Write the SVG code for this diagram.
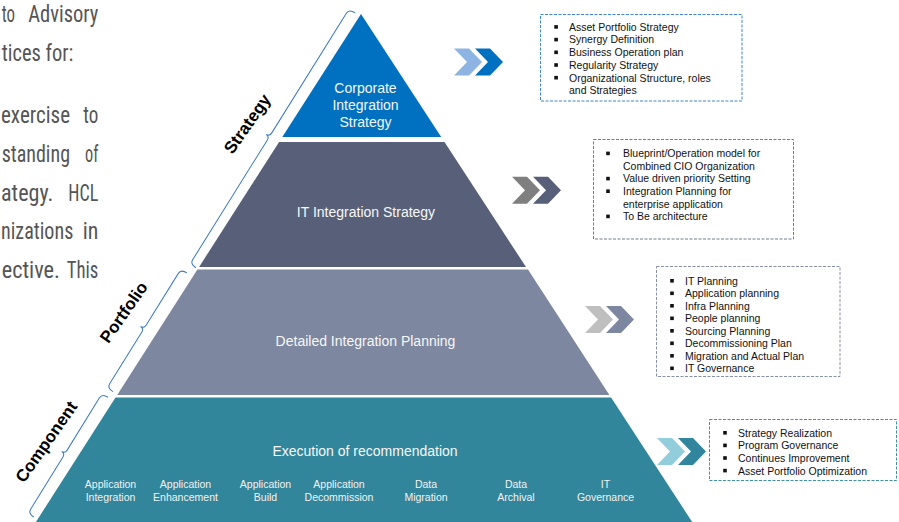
<svg xmlns="http://www.w3.org/2000/svg" xmlns:xlink="http://www.w3.org/1999/xlink" width="899" height="522" viewBox="0 0 899 522">
  <style>
    .para { font-family: "Liberation Sans Narrow", "Roboto Condensed", "DejaVu Sans Condensed", "Liberation Sans", sans-serif; font-size: 23px; fill: #555555; }
    .tier { font-family: "Liberation Sans", Arial, sans-serif; font-size: 14px; fill: #F7F7F7; text-anchor: middle; }
    .sub { font-family: "Liberation Sans", Arial, sans-serif; font-size: 10.5px; fill: #F2F2F2; text-anchor: middle; }
    .item { font-family: "Liberation Sans", Arial, sans-serif; font-size: 10.5px; fill: #111111; }
    .side { font-family: "Liberation Sans", Arial, sans-serif; font-size: 17px; font-weight: bold; fill: #000000; text-anchor: middle; dominant-baseline: central; }
    .brace { fill: none; stroke: #3A78C4; stroke-width: 1; }
    .box { fill: #FFFFFF; stroke-width: 1; stroke-dasharray: 3 1.5; }
    .bullet { fill: #111111; }
  </style>
  <defs>
    <path id="chev" d="M0,0 H15 L28,13.5 L15,27 H0 L13,13.5 Z"/>
    <rect id="blt" width="3.6" height="3.6"/>
  </defs>

  <rect width="899" height="522" fill="#FFFFFF"/>

  <!-- justified paragraph, clipped at the left page edge -->
  <g id="paragraph" class="para">
    <text x="1.7" y="22" textLength="13.3" lengthAdjust="spacingAndGlyphs">to</text>
    <text x="28.3" y="22" textLength="70" lengthAdjust="spacingAndGlyphs">Advisory</text>
    <text x="1.7" y="60.5" textLength="71.6" lengthAdjust="spacingAndGlyphs">tices for:</text>
    <text x="1" y="123.3" textLength="69" lengthAdjust="spacingAndGlyphs">exercise</text>
    <text x="83.3" y="123.3" textLength="15" lengthAdjust="spacingAndGlyphs">to</text>
    <text x="1.7" y="161.9" textLength="68.3" lengthAdjust="spacingAndGlyphs">standing</text>
    <text x="85" y="161.9" textLength="13.3" lengthAdjust="spacingAndGlyphs">of</text>
    <text x="1" y="200.5" textLength="52.3" lengthAdjust="spacingAndGlyphs">ategy.</text>
    <text x="68.3" y="200.5" textLength="30" lengthAdjust="spacingAndGlyphs">HCL</text>
    <text x="1" y="239.1" textLength="72.3" lengthAdjust="spacingAndGlyphs">nizations</text>
    <text x="82.7" y="239.1" textLength="15.6" lengthAdjust="spacingAndGlyphs">in</text>
    <text x="1.7" y="277.7" textLength="58.3" lengthAdjust="spacingAndGlyphs">ective.</text>
    <text x="66.7" y="277.7" textLength="31.6" lengthAdjust="spacingAndGlyphs">This</text>
  </g>

  <!-- pyramid tiers -->
  <g id="tier-corporate">
    <polygon points="361,14 282.3,137 441.2,137" fill="#0070C0"/>
    <text class="tier" x="365.5" y="93.3">Corporate</text>
    <text class="tier" x="365.5" y="110">Integration</text>
    <text class="tier" x="365.5" y="126.7">Strategy</text>
  </g>
  <g id="tier-it">
    <polygon points="279.1,142 444.5,142 526,267 199.1,267" fill="#576078"/>
    <text class="tier" x="366" y="217.3">IT Integration Strategy</text>
  </g>
  <g id="tier-planning">
    <polygon points="197.4,269.6 528,269.6 609.4,395 117.2,395" fill="#7D88A0"/>
    <text class="tier" x="365.5" y="345.7">Detailed Integration Planning</text>
  </g>
  <g id="tier-execution">
    <polygon points="115.5,397.5 611.1,397.5 692.2,522 35.9,522" fill="#31869C"/>
    <text class="tier" x="365" y="455.7">Execution of recommendation</text>
    <g class="sub">
      <text x="110.5" y="487.5">Application</text>
      <text x="110.5" y="501">Integration</text>
      <text x="185.5" y="487.5">Application</text>
      <text x="185.5" y="501">Enhancement</text>
      <text x="265.5" y="487.5">Application</text>
      <text x="265.5" y="501">Build</text>
      <text x="339" y="487.5">Application</text>
      <text x="339" y="501">Decommission</text>
      <text x="426" y="487.5">Data</text>
      <text x="426" y="501">Migration</text>
      <text x="516" y="487.5">Data</text>
      <text x="516" y="501">Archival</text>
      <text x="605.5" y="487.5">IT</text>
      <text x="605.5" y="501">Governance</text>
    </g>
  </g>

  <!-- side braces with their labels -->
  <g id="strategy-brace">
    <path class="brace" transform="translate(190,264) rotate(-58.05)" d="M0,7 Q0,0 5,0 L146.25,0 Q150.25,0 150.25,-4 Q150.25,0 154.25,0 L295.5,0 Q300.5,0 300.5,7"/>
    <text class="side" transform="translate(247.5,124) rotate(-55)">Strategy</text>
  </g>
  <g id="portfolio-brace">
    <path class="brace" transform="translate(107,388) rotate(-58.1)" d="M0,7 Q0,0 5,0 L66,0 Q70,0 70,-4 Q70,0 74,0 L135,0 Q140,0 140,7"/>
    <text class="side" transform="translate(124,312.5) rotate(-55)">Portfolio</text>
  </g>
  <g id="component-brace">
    <path class="brace" transform="translate(28,513.5) rotate(-58.3)" d="M0,7 Q0,0 5,0 L66.5,0 Q70.5,0 70.5,-4 Q70.5,0 74.5,0 L136,0 Q141,0 141,7"/>
    <text class="side" transform="translate(46.5,442) rotate(-55)">Component</text>
  </g>

  <!-- chevron pointers from each tier to its detail box -->
  <g id="connectors">
    <use xlink:href="#chev" href="#chev" x="454" y="48.5" fill="#8DB4E2"/>
    <use xlink:href="#chev" href="#chev" x="475" y="48.5" fill="#0070C0"/>
    <use xlink:href="#chev" href="#chev" x="512" y="176.7" fill="#7F7F7F"/>
    <use xlink:href="#chev" href="#chev" x="533" y="176.7" fill="#576078"/>
    <use xlink:href="#chev" href="#chev" x="585" y="306" fill="#BFBFBF"/>
    <use xlink:href="#chev" href="#chev" x="606" y="306" fill="#7D88A0"/>
    <use xlink:href="#chev" href="#chev" x="657" y="438" fill="#92CDDC"/>
    <use xlink:href="#chev" href="#chev" x="678" y="438" fill="#31859C"/>
  </g>

  <!-- detail boxes -->
  <g id="box-corporate">
    <rect class="box" x="540.5" y="14.5" width="201.5" height="86.5" stroke="#3F86CC"/>
    <g class="bullet">
      <use href="#blt" xlink:href="#blt" x="554.3" y="25.1"/>
      <use href="#blt" xlink:href="#blt" x="554.3" y="37.8"/>
      <use href="#blt" xlink:href="#blt" x="554.3" y="50.5"/>
      <use href="#blt" xlink:href="#blt" x="554.3" y="63.2"/>
      <use href="#blt" xlink:href="#blt" x="554.3" y="75.9"/>
    </g>
    <g class="item">
      <text x="569" y="30.7">Asset Portfolio Strategy</text>
      <text x="569" y="43.4">Synergy Definition</text>
      <text x="569" y="56.1">Business Operation plan</text>
      <text x="569" y="68.8">Regularity Strategy</text>
      <text x="569" y="81.5">Organizational Structure, roles</text>
      <text x="569" y="94.2">and Strategies</text>
    </g>
  </g>

  <g id="box-it">
    <rect class="box" x="593.5" y="139.5" width="200" height="99.5" stroke="#737A8E"/>
    <g class="bullet">
      <use href="#blt" xlink:href="#blt" x="606.2" y="151.6"/>
      <use href="#blt" xlink:href="#blt" x="606.2" y="176.8"/>
      <use href="#blt" xlink:href="#blt" x="606.2" y="189.4"/>
      <use href="#blt" xlink:href="#blt" x="606.2" y="214.6"/>
    </g>
    <g class="item">
      <text x="623" y="157.2">Blueprint/Operation model for</text>
      <text x="623" y="169.8">Combined CIO Organization</text>
      <text x="623" y="182.4">Value driven priority Setting</text>
      <text x="623" y="195">Integration Planning for</text>
      <text x="623" y="207.6">enterprise application</text>
      <text x="623" y="220.2">To Be architecture</text>
    </g>
  </g>

  <g id="box-planning">
    <rect class="box" x="656.5" y="266.5" width="183.5" height="110" stroke="#8791A8"/>
    <g class="bullet">
      <use href="#blt" xlink:href="#blt" x="670.2" y="279"/>
      <use href="#blt" xlink:href="#blt" x="670.2" y="291.5"/>
      <use href="#blt" xlink:href="#blt" x="670.2" y="304"/>
      <use href="#blt" xlink:href="#blt" x="670.2" y="316.5"/>
      <use href="#blt" xlink:href="#blt" x="670.2" y="329"/>
      <use href="#blt" xlink:href="#blt" x="670.2" y="341.5"/>
      <use href="#blt" xlink:href="#blt" x="670.2" y="354"/>
      <use href="#blt" xlink:href="#blt" x="670.2" y="366.5"/>
    </g>
    <g class="item">
      <text x="685" y="284.7">IT Planning</text>
      <text x="685" y="297.2">Application planning</text>
      <text x="685" y="309.7">Infra Planning</text>
      <text x="685" y="322.2">People planning</text>
      <text x="685" y="334.7">Sourcing Planning</text>
      <text x="685" y="347.2">Decommissioning Plan</text>
      <text x="685" y="359.7">Migration and Actual Plan</text>
      <text x="685" y="372.2">IT Governance</text>
    </g>
  </g>

  <g id="box-execution">
    <rect class="box" x="709.5" y="419.5" width="187" height="61" stroke="#3E90A8"/>
    <g class="bullet">
      <use href="#blt" xlink:href="#blt" x="723.2" y="431"/>
      <use href="#blt" xlink:href="#blt" x="723.2" y="443.6"/>
      <use href="#blt" xlink:href="#blt" x="723.2" y="456.2"/>
      <use href="#blt" xlink:href="#blt" x="723.2" y="468.8"/>
    </g>
    <g class="item">
      <text x="738" y="436.7">Strategy Realization</text>
      <text x="738" y="449.3">Program Governance</text>
      <text x="738" y="461.9">Continues Improvement</text>
      <text x="738" y="474.5">Asset Portfolio Optimization</text>
    </g>
  </g>
</svg>
